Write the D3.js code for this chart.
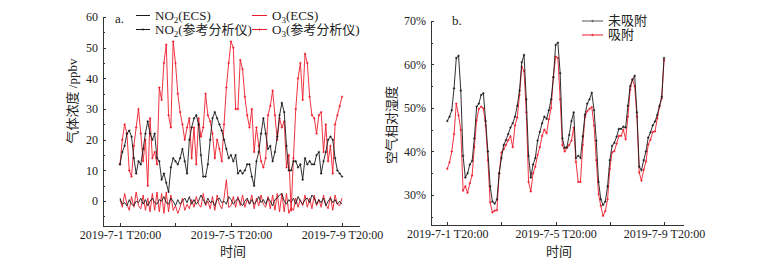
<!DOCTYPE html>
<html>
<head>
<meta charset="utf-8">
<script src="https://cdn.jsdelivr.net/npm/d3@7"></script>
<style>
  body { margin: 0; background: #fff; }
  svg { display: block; }
  text { font-family: "Liberation Serif", "Noto Sans CJK SC", serif; fill: #222; }
  .axis path, .axis line { stroke: #333; stroke-width: 1; shape-rendering: crispEdges; }
</style>
</head>
<body>
<svg id="chart" width="774" height="262"></svg>
<script>
// hours after 2019-7-1 20:00, one sample every 2 hours
var stepHours = 2;
var tickHours = [0, 48, 96, 144, 192];
var tickLabels = ["2019-7-1 T20:00", "", "2019-7-5 T20:00", "", "2019-7-9 T20:00"];

// panel a: gas concentration (ppbv)
var no2Ref = [12,16,18,22,23,21,14,9,13,12, 17,22,26,22,20,22,14,13,7,9, 6,3,11,14,13,12,14,17,13,9,
  20,24,27,28,25,15,8,8,12,20, 27,29,27,25,23,20,17,14,15,13, 15,9,10,9,10,12,12,8,5,13,
  16,22,27,22,17,18,13,16,21,28, 32,29,18,10,10,13,13,11,12,7, 14,12,13,12,12,15,16,9,13,16,
  20,21,20,14,10,9,8];
var o3Ref = [12,20,25,22,10,8,18,24,30,22, 13,20,5,27,14,16,12,37,33,45, 51,28,24,52,45,35,29,25,20,24,
  27,14,24,12,27,21,24,35,28,26, 22,14,20,17,13,25,37,45,52,50, 30,30,46,43,34,28,24,30,16,24,
  18,13,11,14,28,31,36,28,20,27, 24,26,11,15,-3,14,30,40,45,33, 48,45,34,28,27,22,28,29,16,25,
  13,18,9,25,28,31,34];
var no2Ecs = [1,-1,-0.5,-1.5,0.5,-1,-1.5,0,-0.5,1, -1,0.5,-1.5,0,1,-0.5,-1,0.5,0,1.5,
  -0.5,-1,1,0,-1.5,0.5,-1,0,1,-0.5, 1.5,-1,0.5,-1,0,2,0.5,-1,1,-0.5,
  0,-1.5,0.5,1,-0.5,0,-1,1.5,0.5,-1, 0,1,-0.5,-1.5,0,1,-1,0.5,-1,0,
  1.5,-0.5,0.5,-1,1,0,-1.5,0.5,1,2, 2.5,0,-1,0.5,-0.5,1,-1,1.5,0,-1,
  0.5,1,-0.5,2,1,-1,0.5,-0.5,1,-1.5, 0,1,-0.5,0.5,-1,0,-1];
var o3Ecs = [0.5,-2,2.5,-1,-3,1.5,-2,3,-1.5,-2.5, 2,-3,1,-3.5,2.5,-3,3,-3.5,2.5,-4,
  3,-3.5,2,-3,-1.5,-4,-2,1,-3,-1, -2.5,0.5,-2,1.5,-1,-2,2.5,-1.5,0,-2.5,
  1.5,-3,2,-1,-2.5,1,7,-2,-1.5,1.5, -2,1.5,-1.5,2,-2,0.5,-1,2,-2.5,1,
  -1.5,2,-1,-2,1.5,-2.5,2,-3,2.5,-3.5, 2.5,-3.5,2.5,-4,-2,-3,1,-2,0.5,-1.5,
  2,-2,1,-2.5,2,-1.5,0.5,-2,2,-1, -2.5,1.5,-3,2,-1,-1.5,1];

// panel b: relative humidity (%)
var rhRaw = [47,48,49.5,54.5,61.5,62,54,39,34,35, 37,37.8,43,50.3,51,53,53.4,47,40,32,
  28.5,28,29,35,38.5,41.5,42.6,44,45.5,46.5, 48,50.5,54,60.5,62.2,52,39,34,37,38.5,
  42.5,44.5,46.5,48,47.5,49.5,52,57,64.5,65, 58,43,40.8,41,43.8,47,49,38.5,39,38.5,
  43.5,48.5,51,52,53.5,49.5,42.5,33,29,27.7, 28.5,32,38,41.3,42,43.4,45.2,45.2,45.7,45.5,
  50.5,55,56.5,57.4,49,36.5,35.7,38,40,43.2, 44.4,46,46.9,48.4,50.5,52.6,61.5];
var rhAds = [36,37.5,40,44,51,48.3,45,31,32,30.5, 32.7,34.5,41,47.2,49.8,50.3,49.9,46,38,28.3,
  26,26.4,26.5,35,39.8,40.5,41.5,42.6,43.5,41, 46,47.8,53,59.5,58.5,49,33,30.8,35,36.5,
  39.2,41,43.6,45,44.2,47.4,50,57.2,61.8,61.5, 52,41.5,40,40.8,41.5,42.5,45.5,37.6,33,33,
  41.5,48,49.3,49.8,50.2,46,38,30.2,27.5,25.2, 26.3,29,36,39.8,40.1,41.8,43.6,43.6,45,42.8,
  48,54.2,56.6,55,48,35.2,33.3,35.8,37.7,41.6, 42.7,44.5,44.6,47.6,50.3,52.2,61];

var red = "#ee1c2b", black = "#1a1a1a";
var svg = d3.select("#chart");

function drawAxes(g, x, y, yTicks, yMinor, yFmt, xLabel, yLabel, yLabelX, yLabelY) {
  var r = y.range(), xr = x.range();
  g.append("g").attr("class", "axis").attr("transform", "translate(0," + r[0] + ")")
    .call(d3.axisBottom(x).tickValues(tickHours).tickSizeInner(-3).tickSizeOuter(0)
      .tickPadding(4).tickFormat(function(d, i) { return tickLabels[i]; }))
    .call(function(s) { s.selectAll("text").attr("font-size", 12).attr("fill", "#222"); });
  g.append("g").attr("class", "axis").attr("transform", "translate(" + xr[0] + ",0)")
    .call(d3.axisLeft(y).tickValues(yMinor).tickSizeInner(-2).tickSizeOuter(0).tickFormat(""));
  g.append("g").attr("class", "axis").attr("transform", "translate(" + xr[0] + ",0)")
    .call(d3.axisLeft(y).tickValues(yTicks).tickSizeInner(-3).tickSizeOuter(0)
      .tickPadding(5).tickFormat(yFmt))
    .call(function(s) { s.selectAll("text").attr("font-size", 12).attr("fill", "#222"); });
  g.append("text").attr("x", (xr[0] + xr[1]) / 2 + 2).attr("y", 256)
    .attr("text-anchor", "middle").attr("font-size", 13).text(xLabel);
  g.append("text").attr("transform", "translate(" + yLabelX + "," + yLabelY + ") rotate(-90)")
    .attr("text-anchor", "middle").attr("font-size", 13).text(yLabel);
}

function series(g, x, y, vals, color, markers) {
  var line = d3.line().x(function(d, i) { return x(i * stepHours); }).y(function(d) { return y(d); });
  g.append("path").datum(vals).attr("d", line).attr("fill", "none")
    .attr("stroke", color).attr("stroke-width", 0.9).attr("stroke-linejoin", "round");
  if (markers) {
    g.selectAll(null).data(vals).enter().append("path")
      .attr("transform", function(d, i) { return "translate(" + x(i * stepHours) + "," + y(d) + ")"; })
      .attr("d", "M-1.2,0H1.2M0,-1.2V1.2")
      .attr("stroke", color).attr("stroke-width", 0.8);
  }
}

function legendItem(g, x0, x1, y, color, marker, parts) {
  g.append("line").attr("x1", x0).attr("x2", x1).attr("y1", y).attr("y2", y)
    .attr("stroke", color).attr("stroke-width", 1);
  if (marker) {
    g.append("path").attr("d", "M" + ((x0 + x1) / 2 - 1.2) + "," + y + "h2.4M" + ((x0 + x1) / 2) + "," + (y - 1.2) + "v2.4")
      .attr("stroke", color).attr("stroke-width", 0.8);
  }
  var t = g.append("text").attr("x", x1 + 5).attr("y", y + 4).attr("font-size", 13);
  parts.forEach(function(p) {
    var ts = t.append("tspan").text(p[0]);
    if (p[1] === "sub") ts.attr("font-size", 9).attr("dy", 3);
    if (p[1] === "up") ts.attr("dy", -3);
  });
}

// ---- panel a ----
var xa = d3.scaleLinear().domain([-14.7, 206.7]).range([103, 359]);
var ya = d3.scaleLinear().domain([-8.1, 60]).range([226, 17]);
var ga = svg.append("g");
drawAxes(ga, xa, ya, [0, 10, 20, 30, 40, 50, 60], [-5, 5, 15, 25, 35, 45, 55], d3.format("d"),
  "时间", "气体浓度 /ppbv", 77, 101);
series(ga, xa, ya, o3Ecs, red, false);
series(ga, xa, ya, no2Ecs, black, false);
series(ga, xa, ya, o3Ref, red, true);
series(ga, xa, ya, no2Ref, black, true);
ga.append("text").attr("x", 115).attr("y", 23).attr("font-size", 13).text("a.");
legendItem(ga, 136, 150, 15.5, black, false, [["NO"], ["2", "sub"], ["(ECS)", "up"]]);
legendItem(ga, 136, 150, 29.5, black, true, [["NO"], ["2", "sub"], ["(参考分析仪)", "up"]]);
legendItem(ga, 252, 267, 15.5, red, false, [["O"], ["3", "sub"], ["(ECS)", "up"]]);
legendItem(ga, 252, 267, 29.5, red, true, [["O"], ["3", "sub"], ["(参考分析仪)", "up"]]);

// ---- panel b ----
var xb = d3.scaleLinear().domain([-14.4, 208.8]).range([431, 683]);
var yb = d3.scaleLinear().domain([23.1, 70]).range([225, 21]);
var gb = svg.append("g");
drawAxes(gb, xb, yb, [30, 40, 50, 60, 70], [25, 35, 45, 55, 65], function(d) { return d + "%"; },
  "时间", "空气相对湿度", 396, 125);
series(gb, xb, yb, rhAds, red, true);
series(gb, xb, yb, rhRaw, black, true);
gb.append("text").attr("x", 452).attr("y", 25).attr("font-size", 13).text("b.");
legendItem(gb, 582, 603, 21, "#555", true, [["未吸附"]]);
legendItem(gb, 582, 603, 35, red, true, [["吸附"]]);
</script>
</body>
</html>
